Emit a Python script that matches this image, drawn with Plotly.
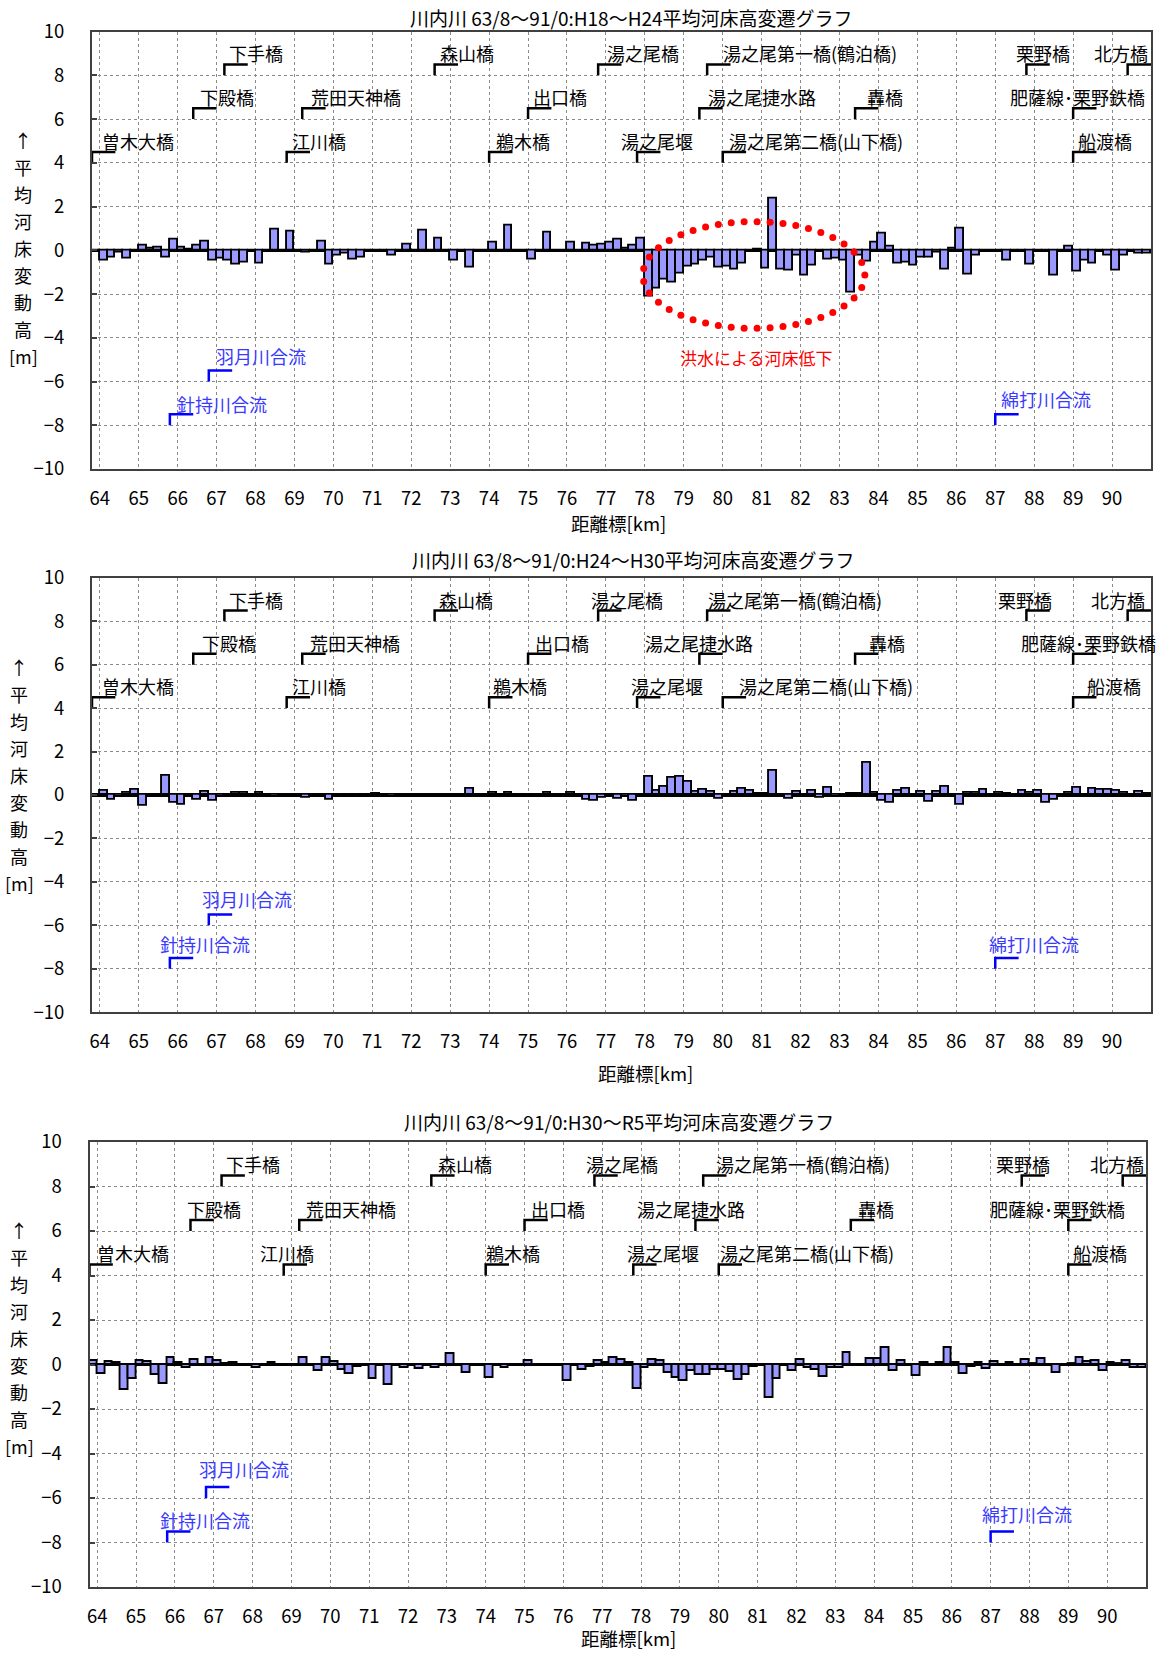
import numpy as np
import plotly.graph_objects as go

W, H = 1162, 1653
FONT = "Noto Sans CJK JP"

# ---- data: 0.2 km sections from 63.8 to 91.0 km (136 bars) ----
km = [round(63.9 + 0.2 * i, 1) for i in range(136)]

dz_h18_h24 = [0.0,
    -0.45, -0.33, -0.10, -0.36, -0.06,
    0.20, 0.10, 0.12, -0.33, 0.47,
    0.12, 0.05, 0.20, 0.38, -0.48,
    -0.36, -0.48, -0.67, -0.56, 0.0,
    -0.59, 0.0, 0.95, 0.0, 0.86,
    0.0, -0.10, 0.0, 0.38, -0.64,
    -0.26, -0.14, -0.44, -0.33, 0.0,
    -0.07, 0.0, -0.23, 0.0, 0.27,
    0.0, 0.88, 0.0, 0.53, 0.0,
    -0.48, 0.0, -0.79, 0.0, 0.0,
    0.35, 0.0, 1.15, 0.0, 0.0,
    -0.41, 0.0, 0.80, 0.0, 0.0,
    0.35, 0.0, 0.30, 0.23, 0.26,
    0.35, 0.50, 0.08, 0.23, 0.55,
    -2.10, -1.73, -1.32, -1.47, -1.06,
    -0.74, -0.64, -0.48, -0.33, -0.79,
    -0.74, -0.86, -0.59, -0.03, 0.03,
    -0.83, 2.36, -0.86, -0.91, -0.23,
    -1.17, -0.68, 0.0, -0.44, -0.38,
    -0.48, -1.95, -0.26, -0.50, 0.35,
    0.77, 0.17, -0.60, -0.56, -0.71,
    -0.33, -0.33, -0.10, -0.89, 0.09,
    0.98, -1.09, -0.23, 0.0, 0.0,
    0.0, -0.48, 0.0, -0.07, -0.67,
    -0.07, 0.0, -1.17, 0.0, 0.17,
    -0.97, -0.48, -0.59, 0.0, -0.26,
    -0.94, -0.23, 0.0, -0.14, -0.14]

dz_h24_h30 = [0.0,
    0.20, -0.23, -0.08, 0.11, 0.26,
    -0.51, -0.05, -0.05, 0.88, -0.34,
    -0.46, 0.0, -0.20, 0.14, -0.28,
    -0.10, 0.0, 0.08, 0.12, 0.03,
    0.12, 0.0, -0.10, 0.0, 0.0,
    0.0, -0.12, 0.0, -0.05, -0.20,
    0.0, 0.0, 0.03, 0.0, 0.0,
    0.05, 0.0, -0.08, 0.0, 0.0,
    0.0, 0.0, 0.0, 0.0, 0.0,
    0.0, 0.0, 0.29, 0.0, 0.0,
    0.10, 0.0, 0.12, 0.0, 0.0,
    0.0, 0.0, 0.12, 0.0, 0.0,
    0.12, 0.0, -0.20, -0.26, -0.15,
    -0.05, -0.18, -0.10, -0.26, 0.0,
    0.85, 0.20, 0.38, 0.77, 0.85,
    0.62, 0.15, 0.26, 0.15, -0.18,
    0.0, 0.15, 0.29, 0.18, 0.05,
    0.05, 1.10, 0.0, -0.18, 0.14,
    0.0, 0.18, -0.15, 0.31, -0.08,
    -0.05, 0.05, 0.05, 1.46, 0.12,
    -0.26, -0.35, 0.20, 0.29, -0.05,
    0.15, -0.31, 0.15, 0.37, 0.0,
    -0.46, 0.09, 0.12, 0.23, 0.0,
    0.12, 0.05, 0.0, 0.20, 0.10,
    0.20, -0.34, -0.20, 0.03, 0.12,
    0.34, 0.0, 0.29, 0.23, 0.23,
    0.18, 0.12, 0.03, 0.15, 0.05]

dz_h30_r5 = [0.15,
    -0.42, 0.10, 0.06, -1.13, -0.64,
    0.15, 0.10, -0.45, -0.87, 0.30,
    0.06, -0.15, 0.21, -0.04, 0.30,
    0.18, 0.03, 0.07, -0.04, 0.0,
    -0.16, 0.0, 0.06, 0.0, -0.04,
    0.0, 0.30, 0.0, -0.27, 0.30,
    0.13, -0.24, -0.42, -0.09, 0.0,
    -0.64, 0.0, -0.94, 0.0, -0.16,
    0.0, -0.19, 0.0, -0.16, 0.0,
    0.48, 0.0, -0.37, 0.0, 0.0,
    -0.60, 0.0, -0.15, 0.0, 0.0,
    0.18, 0.0, 0.0, 0.0, 0.0,
    -0.75, 0.0, -0.24, -0.09, 0.15,
    0.09, 0.28, 0.21, 0.06, -1.09,
    -0.16, 0.22, 0.16, -0.39, -0.60,
    -0.76, -0.27, -0.46, -0.46, -0.24,
    -0.24, -0.34, -0.69, -0.49, -0.09,
    -0.04, -1.50, -0.64, 0.0, -0.30,
    0.22, -0.16, -0.24, -0.57, -0.15,
    -0.16, 0.51, -0.06, 0.0, 0.24,
    0.24, 0.75, -0.27, 0.16, -0.04,
    -0.52, 0.07, 0.0, 0.07, 0.75,
    0.06, -0.42, -0.09, 0.09, -0.22,
    0.12, -0.06, 0.09, 0.0, 0.21,
    0.03, 0.25, -0.06, -0.39, 0.0,
    0.03, 0.31, 0.10, 0.18, -0.27,
    0.09, 0.03, 0.18, -0.15, -0.15]

titles = ["川内川 63/8～91/0:H18～H24平均河床高変遷グラフ",
          "川内川 63/8～91/0:H24～H30平均河床高変遷グラフ",
          "川内川 63/8～91/0:H30～R5平均河床高変遷グラフ"]

x_ticks = list(range(64, 91))
y_ticks = list(range(-10, 11, 2))

# bridges: bracket start km, bracket base level
bridge_names = ["曽木大橋", "下殿橋", "下手橋", "江川橋", "荒田天神橋", "森山橋", "鵜木橋", "出口橋",
                "湯之尾橋", "湯之尾堰", "湯之尾捷水路", "湯之尾第一橋(鶴泊橋)", "湯之尾第二橋(山下橋)",
                "轟橋", "栗野橋", "肥薩線･栗野鉄橋", "船渡橋", "北方橋"]
bridge_km = [63.8, 66.4, 67.2, 68.8, 69.2, 72.6, 74.0, 75.0, 76.8, 77.8, 79.4, 79.6, 80.0,
             83.4, 87.8, 89.0, 89.0, 90.4]
bridge_level = [4, 6, 8, 4, 6, 8, 4, 6, 8, 4, 6, 8, 4, 6, 8, 6, 4, 8]
bridge_text_km = [
    [64.98, 67.28, 68.0, 69.62, 70.57, 73.44, 74.87, 75.83, 77.96, 78.31, 81.0, 82.24, 82.4,
     84.18, 88.23, 89.12, 89.83, 90.22],
    [64.98, 67.32, 68.0, 69.62, 70.55, 73.40, 74.80, 75.88, 77.53, 78.58, 79.38, 81.86, 82.66,
     84.21, 87.77, 89.40, 90.05, 90.15],
    [64.91, 67.01, 68.0, 68.88, 70.54, 73.47, 74.71, 75.85, 77.51, 78.56, 79.29, 82.18, 82.26,
     84.04, 87.83, 88.71, 89.82, 90.26],
]

# tributary confluences
trib_names = ["針持川合流", "羽月川合流", "綿打川合流"]
trib_km = [65.8, 66.8, 87.0]
trib_level = [-8, -6, -8]
trib_text_km = [[67.15, 68.15, 88.3], [66.7, 67.77, 88.0], [66.77, 67.77, 87.93]]
trib_text_y = [[-7.05, -4.84, -6.8], [-6.85, -4.8, -6.85], [-7.0, -4.7, -6.7]]

# flood annotation (panel 1)
flood_text = "洪水による河床低下"
flood_center = (80.8, -1.13)
flood_radius = (2.85, 2.44)
flood_text_pos = (80.86, -4.92)

ylabel_chars = ["↑", "平", "均", "河", "床", "変", "動", "高", "[m]"]

# ---- layout geometry (pixels) ----
panels = [
    dict(xdom=(92, 1151), ydom=(31.6, 469), title=(631, 17), xlab=(618, 523), ylab=(23, 140)),
    dict(xdom=(92, 1151), ydom=(577.8, 1012.2), title=(633, 559), xlab=(645, 1073), ylab=(19, 667)),
    dict(xdom=(89.5, 1146), ydom=(1142, 1587), title=(619, 1121), xlab=(628, 1638), ylab=(19, 1230)),
]
series = [dz_h18_h24, dz_h24_h30, dz_h30_r5]

fig = go.Figure()
annotations = []
layout = {}

def px(x):
    return x / W

def py(y):
    return 1 - y / H

for i, (pan, vals) in enumerate(zip(panels, series)):
    n = "" if i == 0 else str(i + 1)
    xa, ya = "x" + n, "y" + n
    fig.add_trace(go.Bar(x=km, y=vals, width=0.2, xaxis=xa, yaxis=ya,
                         marker=dict(color="#9999FF", line=dict(color="black", width=1.9)),
                         showlegend=False, hoverinfo="x+y"))
    # bridge brackets
    bx, by = [], []
    for k, lv in zip(bridge_km, bridge_level):
        bx += [k, k, k + 0.6, None]
        by += [lv, lv + 0.5, lv + 0.5, None]
    fig.add_trace(go.Scatter(x=bx, y=by, mode="lines", xaxis=xa, yaxis=ya,
                             line=dict(color="black", width=2.5), showlegend=False,
                             hoverinfo="skip", cliponaxis=False))
    tx, ty = [], []
    for k, lv in zip(trib_km, trib_level):
        tx += [k, k, k + 0.6, None]
        ty += [lv, lv + 0.5, lv + 0.5, None]
    fig.add_trace(go.Scatter(x=tx, y=ty, mode="lines", xaxis=xa, yaxis=ya,
                             line=dict(color="#0000FF", width=2.5), showlegend=False,
                             hoverinfo="skip"))
    for name, tk, lv in zip(bridge_names, bridge_text_km[i], bridge_level):
        annotations.append(dict(x=tk, y=lv + 1.0, xref=xa, yref=ya, text=name, showarrow=False,
                                font=dict(family=FONT, size=18, color="black"),
                                xanchor="center", yanchor="middle"))
    for name, tk, tyy in zip(trib_names, trib_text_km[i], trib_text_y[i]):
        annotations.append(dict(x=tk, y=tyy, xref=xa, yref=ya, text=name, showarrow=False,
                                font=dict(family=FONT, size=18, color="#3a3aff"),
                                xanchor="center", yanchor="middle"))
    # titles
    annotations.append(dict(x=px(pan["title"][0]), y=py(pan["title"][1]), xref="paper", yref="paper",
                            text=titles[i], showarrow=False, font=dict(family=FONT, size=19, color="black"),
                            xanchor="center", yanchor="middle"))
    annotations.append(dict(x=px(pan["xlab"][0]), y=py(pan["xlab"][1]), xref="paper", yref="paper",
                            text="距離標[km]", showarrow=False, font=dict(family=FONT, size=18.5, color="black"),
                            xanchor="center", yanchor="middle"))
    for j, ch in enumerate(ylabel_chars):
        annotations.append(dict(x=px(pan["ylab"][0]), y=py(pan["ylab"][1] + 27 * j), xref="paper",
                                yref="paper", text=ch, showarrow=False,
                                font=dict(family=FONT, size=18, color="black"),
                                xanchor="center", yanchor="middle"))

    axis_common = dict(showline=True, mirror=True, linecolor="#404040", linewidth=2,
                       showgrid=True, gridcolor="#8a8a8a", griddash="dot", gridwidth=1,
                       automargin=False,
                       tickfont=dict(family=FONT, size=18.5, color="black"))
    layout["xaxis" + n] = dict(axis_common, domain=[px(pan["xdom"][0]), px(pan["xdom"][1])],
                               range=[63.8, 91.0], tickvals=x_ticks, ticktext=[str(t) for t in x_ticks],
                               ticks="", zeroline=False, anchor=ya, ticklabelstandoff=12)
    layout["yaxis" + n] = dict(axis_common, domain=[py(pan["ydom"][1]), py(pan["ydom"][0])],
                               range=[-10, 10], tickvals=y_ticks, ticks="inside", ticklen=5,
                               tickwidth=1.5, tickcolor="#404040", zeroline=True,
                               zerolinecolor="black", zerolinewidth=2.5, anchor=xa,
                               ticklabelstandoff=22)

# dotted ellipse around the degraded reach (panel 1), points evenly spaced in pixels
x_px_per_km = (1151 - 92) / (91.0 - 63.8)
y_px_per_m = (469 - 31.6) / 20.0
th = np.linspace(0, 2 * np.pi, 2001)
ex_px = flood_radius[0] * x_px_per_km * np.cos(th)
ey_px = flood_radius[1] * y_px_per_m * np.sin(th)
seg = np.hypot(np.diff(ex_px), np.diff(ey_px))
cum = np.concatenate([[0], np.cumsum(seg)])
ndots = 41
targets = np.linspace(0, cum[-1], ndots, endpoint=False)
tt = np.interp(targets, cum, th)
ell_x = flood_center[0] + flood_radius[0] * np.cos(tt)
ell_y = flood_center[1] + flood_radius[1] * np.sin(tt)
fig.add_trace(go.Scatter(x=ell_x, y=ell_y, mode="markers", xaxis="x", yaxis="y",
                         marker=dict(color="#FF0000", size=7), showlegend=False, hoverinfo="skip"))
annotations.append(dict(x=flood_text_pos[0], y=flood_text_pos[1], xref="x", yref="y", text=flood_text,
                        showarrow=False, font=dict(family=FONT, size=17, color="#FF0000"),
                        xanchor="center", yanchor="middle"))

fig.update_layout(width=W, height=H, margin=dict(l=0, r=0, t=0, b=0, autoexpand=False),
                  paper_bgcolor="white", plot_bgcolor="white", bargap=0,
                  annotations=annotations, showlegend=False, **layout)

fig.write_html("out.html")
